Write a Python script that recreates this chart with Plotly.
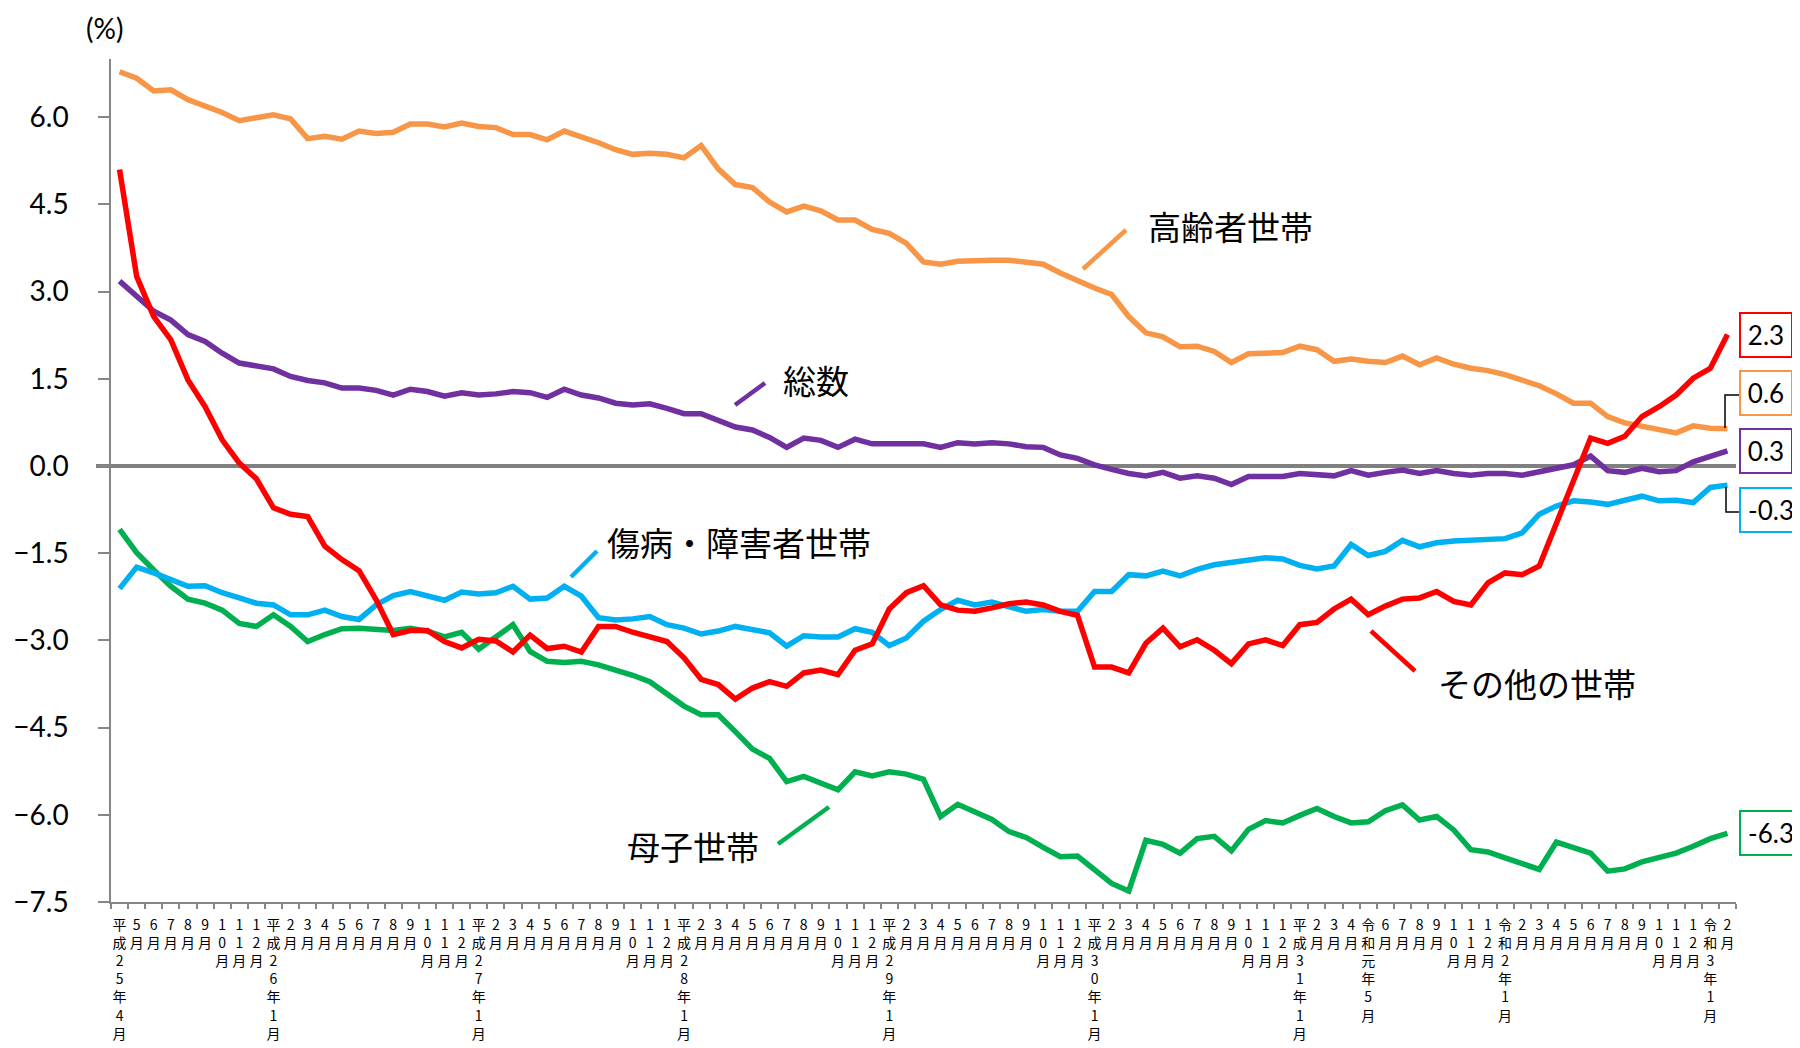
import plotly.graph_objects as go

# ---------------- data ----------------
month_labels = (
    ["平成25年4月", "5月", "6月", "7月", "8月", "9月", "10月", "11月", "12月"]
    + ["平成26年1月", "2月", "3月", "4月", "5月", "6月", "7月", "8月", "9月", "10月", "11月", "12月"]
    + ["平成27年1月", "2月", "3月", "4月", "5月", "6月", "7月", "8月", "9月", "10月", "11月", "12月"]
    + ["平成28年1月", "2月", "3月", "4月", "5月", "6月", "7月", "8月", "9月", "10月", "11月", "12月"]
    + ["平成29年1月", "2月", "3月", "4月", "5月", "6月", "7月", "8月", "9月", "10月", "11月", "12月"]
    + ["平成30年1月", "2月", "3月", "4月", "5月", "6月", "7月", "8月", "9月", "10月", "11月", "12月"]
    + ["平成31年1月", "2月", "3月", "4月", "令和元年5月", "6月", "7月", "8月", "9月", "10月", "11月", "12月"]
    + ["令和2年1月", "2月", "3月", "4月", "5月", "6月", "7月", "8月", "9月", "10月", "11月", "12月"]
    + ["令和3年1月", "2月"]
)

elderly = [6.78, 6.67, 6.45, 6.47, 6.30, 6.20, 6.08, 5.94, 5.99, 6.04,
           5.97, 5.63, 5.67, 5.62, 5.76, 5.72, 5.74, 5.88, 5.88, 5.83,
           5.90, 5.84, 5.82, 5.70, 5.70, 5.61, 5.76, 5.67, 5.56, 5.44,
           5.36, 5.38, 5.36, 5.30, 5.51, 5.11, 4.84, 4.79, 4.54, 4.37,
           4.47, 4.39, 4.23, 4.23, 4.07, 4.00, 3.83, 3.51, 3.47, 3.52,
           3.54, 3.54, 3.54, 3.51, 3.47, 3.32, 3.18, 3.06, 2.95, 2.57,
           2.29, 2.22, 2.05, 2.06, 1.97, 1.78, 1.93, 1.93, 1.95, 2.06,
           2.00, 1.80, 1.84, 1.80, 1.78, 1.89, 1.74, 1.86, 1.75, 1.68,
           1.64, 1.57, 1.47, 1.38, 1.24, 1.08, 1.08, 0.85, 0.74, 0.68,
           0.61, 0.57, 0.69, 0.65, 0.64]

total = [3.18, 2.92, 2.66, 2.51, 2.26, 2.14, 1.94, 1.77, 1.72, 1.67,
         1.54, 1.47, 1.43, 1.34, 1.34, 1.30, 1.22, 1.32, 1.28, 1.20,
         1.26, 1.22, 1.24, 1.28, 1.26, 1.18, 1.32, 1.22, 1.17, 1.08,
         1.05, 1.07, 0.99, 0.90, 0.90, 0.79, 0.67, 0.62, 0.49, 0.32,
         0.48, 0.44, 0.32, 0.46, 0.38, 0.38, 0.38, 0.38, 0.32, 0.40,
         0.38, 0.40, 0.38, 0.33, 0.32, 0.19, 0.13, 0.02, -0.06, -0.13,
         -0.17, -0.11, -0.21, -0.17, -0.21, -0.32, -0.18, -0.18, -0.18, -0.13,
         -0.16, -0.17, -0.08, -0.16, -0.11, -0.07, -0.13, -0.08, -0.13, -0.16,
         -0.13, -0.13, -0.16, -0.10, -0.04, 0.02, 0.17, -0.08, -0.11, -0.04,
         -0.10, -0.08, 0.07, 0.16, 0.26]

other = [5.10, 3.26, 2.57, 2.17, 1.48, 1.02, 0.45, 0.05, -0.22, -0.72,
         -0.83, -0.87, -1.38, -1.61, -1.80, -2.30, -2.90, -2.83, -2.83, -3.02,
         -3.13, -2.98, -3.01, -3.20, -2.91, -3.14, -3.10, -3.20, -2.76, -2.76,
         -2.86, -2.93, -3.02, -3.30, -3.67, -3.76, -4.01, -3.82, -3.71, -3.79,
         -3.56, -3.51, -3.59, -3.17, -3.06, -2.46, -2.18, -2.06, -2.39, -2.48,
         -2.50, -2.44, -2.37, -2.34, -2.39, -2.50, -2.57, -3.46, -3.46, -3.56,
         -3.05, -2.79, -3.11, -2.99, -3.17, -3.40, -3.06, -2.99, -3.09, -2.73,
         -2.69, -2.46, -2.29, -2.56, -2.41, -2.29, -2.27, -2.16, -2.33, -2.39,
         -2.01, -1.84, -1.87, -1.72, -1.00, -0.22, 0.48, 0.39, 0.51, 0.85,
         1.02, 1.22, 1.51, 1.68, 2.26]

disabled = [-2.11, -1.74, -1.84, -1.95, -2.07, -2.06, -2.18, -2.27, -2.36, -2.39,
            -2.56, -2.56, -2.48, -2.59, -2.64, -2.39, -2.23, -2.16, -2.24, -2.31,
            -2.17, -2.20, -2.18, -2.07, -2.29, -2.27, -2.07, -2.24, -2.61, -2.65,
            -2.63, -2.59, -2.73, -2.79, -2.89, -2.84, -2.76, -2.82, -2.87, -3.10,
            -2.92, -2.94, -2.94, -2.80, -2.86, -3.09, -2.96, -2.67, -2.47, -2.31,
            -2.39, -2.34, -2.43, -2.50, -2.47, -2.50, -2.50, -2.16, -2.16, -1.87,
            -1.89, -1.81, -1.89, -1.78, -1.70, -1.66, -1.60, -1.58, -1.60, -1.71,
            -1.77, -1.72, -1.35, -1.54, -1.47, -1.28, -1.39, -1.32, -1.29, -1.28,
            -1.25, -1.25, -1.15, -0.83, -0.69, -0.60, -0.62, -0.66, -0.59, -0.52,
            -0.60, -0.59, -0.63, -0.37, -0.33]

single_mother = [-1.09, -1.49, -1.79, -2.07, -2.29, -2.36, -2.48, -2.71, -2.76, -2.56,
                 -2.76, -3.02, -2.90, -2.80, -2.79, -2.82, -2.83, -2.79, -2.84, -2.94,
                 -2.86, -3.15, -2.93, -2.73, -3.19, -3.36, -3.38, -3.36, -3.42, -3.50,
                 -3.60, -3.71, -3.92, -4.13, -4.28, -4.28, -4.57, -4.87, -5.03, -5.43,
                 -5.34, -5.46, -5.57, -5.26, -5.33, -5.26, -5.30, -5.39, -6.03, -5.82,
                 -5.95, -6.08, -6.29, -6.39, -6.56, -6.72, -6.71, -6.95, -7.18, -7.31,
                 -6.44, -6.51, -6.66, -6.41, -6.37, -6.62, -6.25, -6.10, -6.14, -6.01,
                 -5.89, -6.03, -6.14, -6.12, -5.93, -5.83, -6.09, -6.03, -6.26, -6.60,
                 -6.64, -6.74, -6.84, -6.94, -6.47, -6.56, -6.66, -6.97, -6.93, -6.81,
                 -6.74, -6.66, -6.54, -6.41, -6.32]

series_names = ["高齢者世帯", "総数", "傷病・障害者世帯", "その他の世帯", "母子世帯"]
y_ticks = [-7.5, -6.0, -4.5, -3.0, -1.5, 0.0, 1.5, 3.0, 4.5, 6.0]

# ---------------- styling ----------------
ORANGE = "#F79646"
PURPLE = "#7030A0"
RED = "#FF0000"
BLUE = "#00B0F0"
GREEN = "#00B050"
AXIS = "#868686"
NUM_FONT = "Lato, 'Open Sans', sans-serif"
JP_FONT = "'Noto Sans CJK JP', sans-serif"

# page body has an 8px default margin -> figure is placed at (8, 8)
OFF = 8
W, H = 1800 - OFF, 1048 - OFF
# plot area in page pixels: x 111..1736, y 59..902
PX0, PX1, PY0, PY1 = 111, 1736, 59, 902
L, T = PX0 - OFF, PY0 - OFF
R = W - (PX1 - OFF)
B = H - (PY1 - OFF)
PW, PH = PX1 - PX0, PY1 - PY0


def px(xp):
    return (xp - PX0) / PW


def py(yp):
    return (PY1 - yp) / PH


x = list(range(len(month_labels)))
tick_text = ["<br>".join(list(s)) for s in month_labels]

fig = go.Figure()
series = [
    (single_mother, GREEN, series_names[4]),
    (disabled, BLUE, series_names[2]),
    (total, PURPLE, series_names[1]),
    (elderly, ORANGE, series_names[0]),
    (other, RED, series_names[3]),
]
for vals, col, name in series:
    fig.add_trace(go.Scatter(x=x, y=vals, mode="lines", name=name,
                             line=dict(color=col, width=5.5), showlegend=False))

shapes = []
# zero line (thick gray)
shapes.append(dict(type="line", xref="paper", yref="y", x0=px(96), x1=1.0, y0=0, y1=0,
                   line=dict(color="#808080", width=4), layer="below"))

# leader lines for series labels (page pixel positions)
leaders = [
    (ORANGE, (1083, 269), (1126, 230)),
    (PURPLE, (735, 405), (765, 383)),
    (BLUE, (571, 577), (597, 551)),
    (RED, (1371, 631), (1415, 671)),
    (GREEN, (778, 844), (829, 807)),
]
for col, (x0, y0), (x1, y1) in leaders:
    shapes.append(dict(type="line", xref="paper", yref="paper",
                       x0=px(x0), y0=py(y0), x1=px(x1), y1=py(y1),
                       line=dict(color=col, width=4.5)))

# black connectors for end-value boxes
for pts in [[(1725, 428), (1725, 395), (1739, 395)],
            [(1726, 487), (1726, 512), (1739, 512)]]:
    path = "M " + " L ".join(f"{px(a):.5f},{py(b):.5f}" for a, b in pts)
    shapes.append(dict(type="path", xref="paper", yref="paper", path=path,
                       line=dict(color="black", width=1.5)))

annotations = []
# series name labels
name_pos = [
    (series_names[0], 1230, 226),
    (series_names[1], 816, 380),
    (series_names[2], 739, 542),
    (series_names[3], 1537, 683),
    (series_names[4], 693, 846),
]
for txt, cx, cy in name_pos:
    annotations.append(dict(text=txt, xref="paper", yref="paper", x=px(cx), y=py(cy),
                            xanchor="center", yanchor="middle", showarrow=False,
                            font=dict(family=JP_FONT, size=33, color="black")))

# end-value boxes
box_specs = [
    (other, RED, 2.25, 46),
    (elderly, ORANGE, 1.25, 46),
    (total, PURPLE, 0.26, 46),
    (disabled, BLUE, -0.76, 56),
    (single_mother, GREEN, -6.31, 56),
]
for vals, col, yc, w in box_specs:
    annotations.append(dict(text=f"{vals[-1]:.1f}", xref="paper", yref="y", x=1.0, y=yc,
                            xanchor="left", yanchor="middle", xshift=3, showarrow=False,
                            bordercolor=col, borderwidth=2, borderpad=2, bgcolor="white",
                            width=w, height=38, align="center",
                            font=dict(family=NUM_FONT, size=26, color="black")))

# unit label
annotations.append(dict(text="(%)", xref="paper", yref="paper", x=px(104), y=py(28),
                        xanchor="center", yanchor="middle", showarrow=False,
                        font=dict(family=NUM_FONT, size=28, color="black")))

fig.update_layout(
    width=W, height=H,
    margin=dict(l=L, r=R, t=T, b=B, pad=0, autoexpand=False),
    paper_bgcolor="white", plot_bgcolor="white",
    shapes=shapes, annotations=annotations,
    showlegend=False,
)
fig.update_xaxes(
    range=[-0.5, len(x) - 0.5], tickmode="array", tickvals=x, ticktext=tick_text,
    tickangle=0, ticks="", showgrid=False, zeroline=False, automargin=False,
    showline=True, linecolor=AXIS, linewidth=1.5, ticklabelstandoff=9,
    tickfont=dict(family=JP_FONT, size=14, color="black"),
    minor=dict(ticks="outside", ticklen=5, tickcolor=AXIS, tickwidth=1.5,
               tick0=-0.5, dtick=1, showgrid=False),
)
fig.update_yaxes(
    range=[-7.5, 7.0], tickmode="array", tickvals=y_ticks, tickformat=".1f",
    ticks="outside", ticklen=11, tickcolor=AXIS, tickwidth=1.5, automargin=False,
    showline=True, linecolor=AXIS, linewidth=1.5, showgrid=False, zeroline=False,
    tickfont=dict(family=NUM_FONT, size=28, color="black"), ticklabelstandoff=24,
)

fig.write_html("out.html")
